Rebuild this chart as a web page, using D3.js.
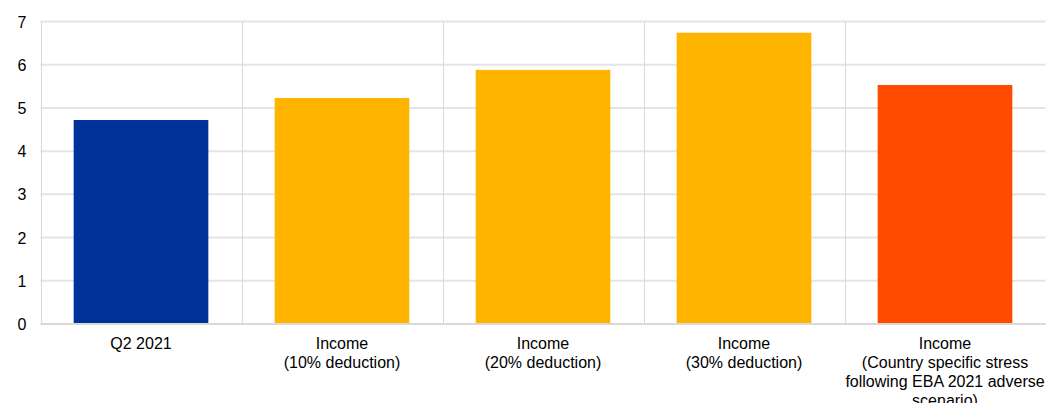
<!DOCTYPE html>
<html><head><meta charset="utf-8">
<script src="https://cdn.jsdelivr.net/npm/d3@7"></script>
<style>body{margin:0;background:#fff}svg{display:block}text{font-family:"Liberation Sans",Arial,sans-serif;fill:#000}</style>
</head><body><svg id="c" width="1046" height="403"></svg>
<script>
const categories = ["Q2 2021","Income\n(10% deduction)","Income\n(20% deduction)","Income\n(30% deduction)","Income\n(Country specific stress\nfollowing EBA 2021 adverse\nscenario)"];
const values = [4.72, 5.23, 5.88, 6.74, 5.53];
const colors = ["#003299","#FFB400","#FFB400","#FFB400","#FF4B00"];
const yTicks = [0,1,2,3,4,5,6,7];

const svg = d3.select("#c");
const m = {l:40.5, r:1045.5, t:21.5, b:324};
const x = d3.scaleBand().domain(categories).range([m.l, m.r]).paddingInner(0.33).paddingOuter(0.165);
const xb = d3.scaleBand().domain(categories).range([m.l, m.r]);
const y = d3.scaleLinear().domain([0,7]).range([m.b, m.t]);

// horizontal gridlines
svg.append("g").selectAll("line").data(yTicks).join("line")
  .attr("x1", m.l).attr("x2", m.r).attr("y1", d=>y(d)).attr("y2", d=>y(d))
  .attr("stroke", "#e4e4e4").attr("stroke-width", 2);
// vertical category separators
const seps = categories.map(c=>xb(c)).concat([m.r]);
svg.append("g").selectAll("line").data(seps).join("line")
  .attr("x1", d=>Math.round(d)+0.5).attr("x2", d=>Math.round(d)+0.5).attr("y1", m.t).attr("y2", m.b)
  .attr("stroke", "#d9d9d9").attr("stroke-width", 1);

// bars
svg.append("g").selectAll("rect").data(categories).join("rect")
  .attr("x", d=>x(d)).attr("width", x.bandwidth())
  .attr("y", (d,i)=>y(values[i])).attr("height", (d,i)=>y(0)-y(values[i]))
  .attr("fill", (d,i)=>colors[i]);

// bottom axis line
svg.append("line").attr("x1", m.l).attr("x2", m.r).attr("y1", y(0)).attr("y2", y(0))
  .attr("stroke", "#d9d9d9").attr("stroke-width", 2);

// y axis labels
const yAxis = d3.axisLeft(y).tickValues(yTicks).tickSize(0).tickPadding(0).tickFormat(d3.format("d"));
const ya = svg.append("g").attr("transform", `translate(${m.l-14},0)`).call(yAxis);
ya.select(".domain").remove();
ya.selectAll("text").style("font-size","16px").attr("fill","#000").attr("dy","0.35em");

// x labels
const xa = svg.append("g");
categories.forEach(c=>{
  const t = xa.append("text").attr("x", x(c)+x.bandwidth()/2).attr("y", 348.5)
    .attr("text-anchor","middle").style("font-size","16px");
  c.split("\n").forEach((line,i)=>{
    t.append("tspan").attr("x", x(c)+x.bandwidth()/2).attr("dy", i===0?0:19).text(line);
  });
});
</script></body></html>
